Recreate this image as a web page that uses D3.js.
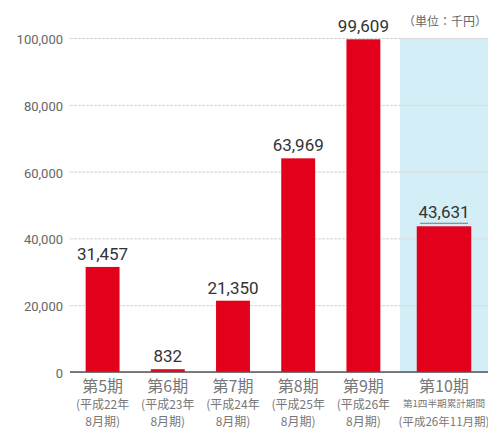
<!DOCTYPE html>
<html lang="ja">
<head>
<meta charset="utf-8">
<script src="https://cdn.jsdelivr.net/npm/d3@7"></script>
<style>
  html, body { margin: 0; padding: 0; background: #fff; }
  svg { display: block; }
</style>
</head>
<body>
<svg id="chart" width="488" height="430"></svg>
<script>
// Completed fiscal periods (fiscal year ending August)
const periods = ["第5期", "第6期", "第7期", "第8期", "第9期"];
const periodYears = ["(平成22年", "(平成23年", "(平成24年", "(平成25年", "(平成26年"];
const periodMonths = ["8月期)", "8月期)", "8月期)", "8月期)", "8月期)"];
const values = [31457, 832, 21350, 63969, 99609];

// Current period, first-quarter cumulative
const currentPeriod = "第10期";
const currentSub = ["第1四半期累計期間", "(平成26年11月期)"];
const currentValue = 43631;

const yTicks = [0, 20000, 40000, 60000, 80000, 100000];
const unitLabel = "（単位：千円）";

const W = 488, H = 430;
const plot = { left: 70, right: 488, top: 38, bottom: 372 };
const splitX = 400; // start of the shaded current-period area

const svg = d3.select("#chart");
const fmt = d3.format(",");
const numFont = "Roboto, 'Liberation Sans', sans-serif";
const jpFont = "'Noto Sans CJK JP', 'Noto Sans', sans-serif";
const red = "#e2001a";

const y = d3.scaleLinear().domain([0, 100000]).range([plot.bottom, plot.top]);

const x = d3.scaleBand().domain(periods)
  .range([plot.left, splitX - 4])
  .paddingInner(0.48).paddingOuter(0.24);

const xCur = d3.scaleBand().domain([currentPeriod])
  .range([splitX, plot.right])
  .paddingInner(0).paddingOuter((1 - x.bandwidth() / (plot.right - splitX)) / 2);

// shaded area for the current period
svg.append("rect")
  .attr("x", splitX).attr("y", y(100000))
  .attr("width", plot.right - splitX).attr("height", y(0) - y(100000))
  .attr("fill", "#d3eef6");

// y axis with gridlines
const yAxis = d3.axisLeft(y).tickValues(yTicks).tickFormat(fmt)
  .tickSize(-(plot.right - plot.left)).tickPadding(7);
const gy = svg.append("g").attr("transform", `translate(${plot.left},0)`).call(yAxis);
gy.select(".domain").remove();
gy.selectAll(".tick line")
  .attr("stroke", "#d6d6d6").attr("stroke-width", 1)
  .attr("stroke-dasharray", d => d === 0 ? null : "3,1");
gy.selectAll(".tick text")
  .attr("font-family", numFont).attr("font-size", 13)
  .attr("fill", "#666").attr("dy", "0.42em");

// bars
svg.append("g").selectAll("rect").data(values).join("rect")
  .attr("x", (d, i) => x(periods[i]))
  .attr("y", d => y(d))
  .attr("width", x.bandwidth())
  .attr("height", d => y(0) - y(d))
  .attr("fill", red);

svg.append("rect")
  .attr("x", xCur(currentPeriod))
  .attr("y", y(currentValue))
  .attr("width", xCur.bandwidth())
  .attr("height", y(0) - y(currentValue))
  .attr("fill", red);

// baseline
svg.append("line")
  .attr("x1", plot.left).attr("x2", plot.right)
  .attr("y1", y(0)).attr("y2", y(0))
  .attr("stroke", "#555").attr("stroke-width", 1.5);

// value labels
svg.append("g").selectAll("text").data(values).join("text")
  .attr("x", (d, i) => x(periods[i]) + x.bandwidth() / 2)
  .attr("y", d => y(d) - 7)
  .attr("text-anchor", "middle")
  .attr("font-family", numFont).attr("font-size", 17)
  .attr("fill", "#333")
  .text(d => fmt(d));

const cx = xCur(currentPeriod) + xCur.bandwidth() / 2;
svg.append("text")
  .attr("x", cx).attr("y", y(currentValue) - 8)
  .attr("text-anchor", "middle")
  .attr("font-family", numFont).attr("font-size", 17)
  .attr("fill", "#333")
  .text(fmt(currentValue));
svg.append("line")
  .attr("x1", cx - 24).attr("x2", cx + 24)
  .attr("y1", y(currentValue) - 3).attr("y2", y(currentValue) - 3)
  .attr("stroke", "#777").attr("stroke-width", 1);

// category labels
const cat = svg.append("g").attr("fill", "#777").attr("font-family", jpFont).attr("text-anchor", "middle");
periods.forEach((p, i) => {
  const px = x(p) + x.bandwidth() / 2;
  cat.append("text").attr("x", px).attr("y", 392).attr("font-size", 16).text(p);
  cat.append("text").attr("x", px).attr("y", 409).attr("font-size", 12).text(periodYears[i]);
  cat.append("text").attr("x", px).attr("y", 426).attr("font-size", 12).text(periodMonths[i]);
});
cat.append("text").attr("x", cx).attr("y", 392).attr("font-size", 16).text(currentPeriod);
cat.append("text").attr("x", cx).attr("y", 407).attr("font-size", 9.6).text(currentSub[0]);
cat.append("text").attr("x", cx).attr("y", 426).attr("font-size", 11.5).text(currentSub[1]);

// unit
svg.append("text")
  .attr("x", 487).attr("y", 26)
  .attr("text-anchor", "end")
  .attr("font-family", jpFont).attr("font-size", 12)
  .attr("fill", "#666")
  .text(unitLabel);
</script>
</body>
</html>
